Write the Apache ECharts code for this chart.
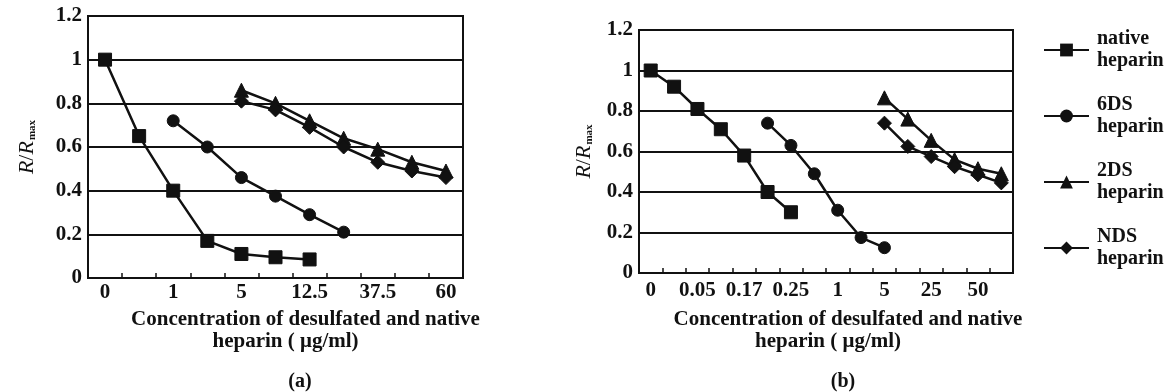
<!DOCTYPE html>
<html>
<head>
<meta charset="utf-8">
<script src="https://cdn.jsdelivr.net/npm/echarts@6.0.0/dist/echarts.min.js"></script>
<style>
html,body{margin:0;padding:0;background:#fff;}
#chart{width:1175px;height:392px;}
</style>
</head>
<body>
<div id="chart"></div>
<script>
// ---- data ----
const categoriesA = ['0', '', '1', '', '5', '', '12.5', '', '37.5', '', '60'];
const nativeA = [1.0, 0.65, 0.40, 0.17, 0.11, 0.095, 0.085];
const ds6A = [null, null, 0.72, 0.60, 0.46, 0.375, 0.29, 0.21];
const ds2A = [null, null, null, null, 0.86, 0.80, 0.72, 0.64, 0.59, 0.53, 0.49];
const ndsA = [null, null, null, null, 0.81, 0.77, 0.69, 0.60, 0.53, 0.49, 0.46];

const categoriesB = ['0', '', '0.05', '', '0.17', '', '0.25', '', '1', '', '5', '', '25', '', '50', ''];
const nativeB = [1.0, 0.92, 0.81, 0.71, 0.58, 0.40, 0.30];
const ds6B = [null, null, null, null, null, 0.74, 0.63, 0.49, 0.31, 0.175, 0.125];
const ds2B = [null, null, null, null, null, null, null, null, null, null, 0.865, 0.76, 0.655, 0.56, 0.515, 0.49];
const ndsB = [null, null, null, null, null, null, null, null, null, null, 0.74, 0.625, 0.575, 0.525, 0.485, 0.445];

const seriesNames = ['native heparin', '6DS heparin', '2DS heparin', 'NDS heparin'];
const yTicks = [0, 0.2, 0.4, 0.6, 0.8, 1, 1.2];
const xTitleLine1 = 'Concentration of desulfated and native';
const xTitleLine2 = 'heparin ( μg/ml)';
const panelLabels = ['(a)', '(b)'];

// ---- styles ----
const INK = '#111';
const FONT = "'Liberation Serif', 'DejaVu Serif', serif";
const symbols = ['rect', 'circle', 'triangle', 'diamond'];
const symbolSizes = [13, 12, 14, 14];

function yAxis(gridIndex, nameGap) {
  return {
    type: 'value', gridIndex: gridIndex, min: 0, max: 1.2, interval: 0.2,
    axisLine: {show: true, lineStyle: {color: INK, width: 2}},
    axisTick: {show: false},
    splitLine: {show: true, lineStyle: {color: INK, width: 1.8}},
    axisLabel: {color: INK, fontFamily: FONT, fontSize: 21, fontWeight: 'bold', margin: 6,
      formatter: v => String(yTicks.find(t => Math.abs(t - v) < 1e-6) ?? v)},
    name: '{i|R}/{i|R}{s|max}',
    nameLocation: 'middle', nameRotate: 90, nameGap: nameGap,
    nameTextStyle: {color: INK, fontFamily: FONT, fontSize: 22,
      rich: {
        i: {fontStyle: 'italic', fontSize: 22, fontFamily: FONT, color: INK},
        s: {fontSize: 11, fontWeight: 'bold', fontFamily: FONT, color: INK, verticalAlign: 'bottom', padding: [0, 0, 0, 1]}
      }}
  };
}

function xAxis(gridIndex, cats, labelMargin, nameGap, shift) {
  return {
    type: 'category', gridIndex: gridIndex, data: cats, boundaryGap: true,
    axisLine: {show: true, lineStyle: {color: INK, width: 2}},
    axisTick: {show: true, inside: true, length: 5, interval: 0, lineStyle: {color: INK, width: 1.5}},
    axisLabel: {interval: 0, color: INK, fontFamily: FONT, fontSize: 21, fontWeight: 'bold', margin: labelMargin},
    splitLine: {show: false},
    name: '{a|' + xTitleLine1 + '}\n{b|' + xTitleLine2 + '}',
    nameLocation: 'middle', nameGap: nameGap,
    nameTextStyle: {color: INK, fontFamily: FONT, fontSize: 21, fontWeight: 'bold',
      padding: [0, 0, 0, shift],
      rich: {
        a: {fontFamily: FONT, fontSize: 21, fontWeight: 'bold', color: INK, lineHeight: 22},
        b: {fontFamily: FONT, fontSize: 21, fontWeight: 'bold', color: INK, lineHeight: 22, padding: [0, 40, 0, 0]}
      }}
  };
}

const dataA = [nativeA, ds6A, ds2A, ndsA];
const dataB = [nativeB, ds6B, ds2B, ndsB];
const series = [];
[dataA, dataB].forEach((set, gi) => {
  set.forEach((d, k) => {
    series.push({
      name: seriesNames[k], type: 'line', xAxisIndex: gi, yAxisIndex: gi,
      data: d, symbol: symbols[k], symbolSize: symbolSizes[k], showSymbol: true,
      lineStyle: {color: INK, width: 2.5}, itemStyle: {color: INK, borderColor: INK},
      emphasis: {disabled: true}, animation: false, z: 3
    });
  });
});

const chart = echarts.init(document.getElementById('chart'));
chart.setOption({
  backgroundColor: '#fff',
  animation: false,
  grid: [
    {left: 88, top: 16, width: 375, height: 262, show: true, borderColor: INK, borderWidth: 2, backgroundColor: 'transparent'},
    {left: 639, top: 30, width: 374, height: 243, show: true, borderColor: INK, borderWidth: 2, backgroundColor: 'transparent'}
  ],
  xAxis: [xAxis(0, categoriesA, 4, 31, 60), xAxis(1, categoriesB, 7, 36, 44)],
  yAxis: [yAxis(0, 50), yAxis(1, 44)],
  legend: {
    data: seriesNames, orient: 'vertical', left: 1043, top: 17, padding: 0,
    itemWidth: 45, itemHeight: 16, itemGap: 0,
    formatter: n => n.replace(' ', '\n'),
    textStyle: {color: INK, fontFamily: FONT, fontSize: 20, fontWeight: 'bold', lineHeight: 22, padding: [22, 0, 0, 3]}
  },
  graphic: [
    {type: 'text', x: 300, y: 382, style: {text: panelLabels[0], align: 'center', verticalAlign: 'middle', fill: INK, font: "bold 20px 'Liberation Serif', serif"}},
    {type: 'text', x: 843, y: 382, style: {text: panelLabels[1], align: 'center', verticalAlign: 'middle', fill: INK, font: "bold 20px 'Liberation Serif', serif"}}
  ],
  series: series
});
</script>
</body>
</html>
